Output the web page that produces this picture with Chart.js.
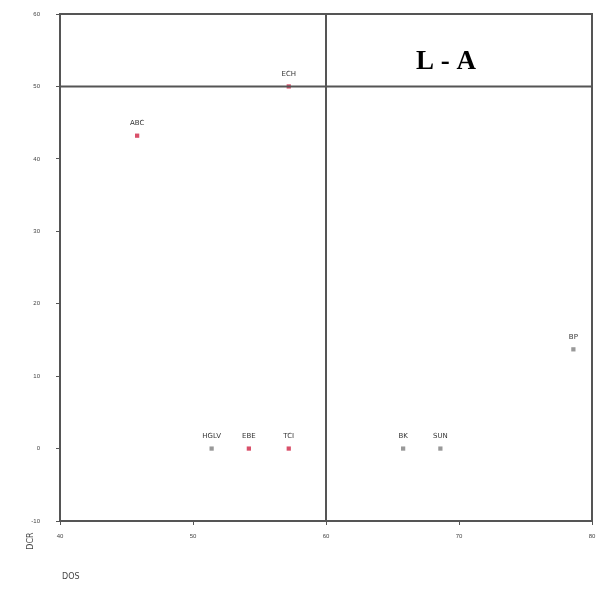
<!DOCTYPE html>
<html>
<head>
<meta charset="utf-8">
<script src="https://cdn.jsdelivr.net/npm/chart.js@4"></script>
<style>
  html, body { margin: 0; padding: 0; background: #fff; }
  #wrap { width: 599px; height: 590px; }
</style>
</head>
<body>
<div id="wrap"><canvas id="grafico"></canvas></div>
<script>
// datos
const etiquetas = ['ABC', 'ECH', 'HGLV', 'EBE', 'TCI', 'BK', 'SUN', 'BP'];
const valoresDOS = [45.8, 57.2, 51.4, 54.2, 57.2, 65.8, 68.6, 78.6];
const valoresDCR = [43.2, 50, 0, 0, 0, 0, 0, 13.7];
const destacados = [true, true, false, true, true, false, false, false];
const ticksX = [40, 50, 60, 70, 80];
const ticksY = [-10, 0, 10, 20, 30, 40, 50, 60];
const lineaX = 60;
const lineaY = 50;

const puntos = valoresDOS.map((x, i) => ({ x: x, y: valoresDCR[i] }));

// marco completo, textos de ejes y etiquetas de puntos
const extras = {
  id: 'extras',
  afterDatasetsDraw(chart) {
    const c = chart.ctx;
    const a = chart.chartArea;
    c.save();
    c.strokeStyle = '#555';
    c.lineWidth = 2;
    c.strokeRect(a.left, a.top, a.right - a.left, a.bottom - a.top);

    // etiquetas de los puntos
    c.fillStyle = '#333';
    c.font = '7px "DejaVu Sans"';
    c.textAlign = 'center';
    c.textBaseline = 'bottom';
    chart.getDatasetMeta(2).data.forEach((p, i) => {
      c.fillText(etiquetas[i], p.x, p.y - 9);
    });

    c.fillStyle = '#444';
    c.font = '8px "DejaVu Sans"';
    c.textAlign = 'left';
    c.textBaseline = 'middle';
    c.fillText('DOS', 62, 577);
    c.save();
    c.translate(31, 541);
    c.rotate(-Math.PI / 2);
    c.textAlign = 'center';
    c.fillText('DCR', 0, 0);
    c.restore();

    c.fillStyle = '#000';
    c.font = 'bold 27px "Liberation Serif"';
    c.textAlign = 'center';
    c.fillText('L - A', 446, 62);
    c.restore();
  }
};

new Chart(document.getElementById('grafico'), {
  type: 'scatter',
  data: {
    datasets: [
      {
        data: [{ x: lineaX, y: ticksY[0] }, { x: lineaX, y: ticksY[ticksY.length - 1] }],
        showLine: true, borderColor: '#555', borderWidth: 2, pointRadius: 0
      },
      {
        data: [{ x: ticksX[0], y: lineaY }, { x: ticksX[ticksX.length - 1], y: lineaY }],
        showLine: true, borderColor: '#555', borderWidth: 2, pointRadius: 0
      },
      {
        data: puntos,
        pointStyle: 'rect',
        pointRadius: 3,
        borderWidth: 0,
        backgroundColor: destacados.map(d => d ? '#d9506a' : '#999'),
        borderColor: destacados.map(d => d ? '#d9506a' : '#999')
      }
    ]
  },
  options: {
    responsive: true,
    maintainAspectRatio: false,
    animation: false,
    layout: { padding: { top: 14, right: 7, left: 0, bottom: 0 } },
    plugins: { legend: { display: false }, tooltip: { enabled: false } },
    scales: {
      x: {
        min: ticksX[0], max: ticksX[ticksX.length - 1],
        afterBuildTicks: s => { s.ticks = ticksX.map(v => ({ value: v })); },
        afterFit: s => { s.height = 69; s.paddingLeft = 0; s.paddingRight = 0; },
        border: { display: false },
        grid: { drawOnChartArea: false, drawTicks: true, tickLength: 4, color: '#555' },
        ticks: { color: '#444', font: { size: 6 }, padding: 8, maxRotation: 0 }
      },
      y: {
        min: ticksY[0], max: ticksY[ticksY.length - 1],
        afterBuildTicks: s => { s.ticks = ticksY.map(v => ({ value: v })); },
        afterFit: s => { s.width = 60; s.paddingTop = 0; s.paddingBottom = 0; },
        border: { display: false },
        grid: { drawOnChartArea: false, drawTicks: true, tickLength: 4, color: '#555' },
        ticks: { color: '#444', font: { size: 6 }, padding: 16 }
      }
    }
  },
  plugins: [extras]
});
</script>
</body>
</html>
